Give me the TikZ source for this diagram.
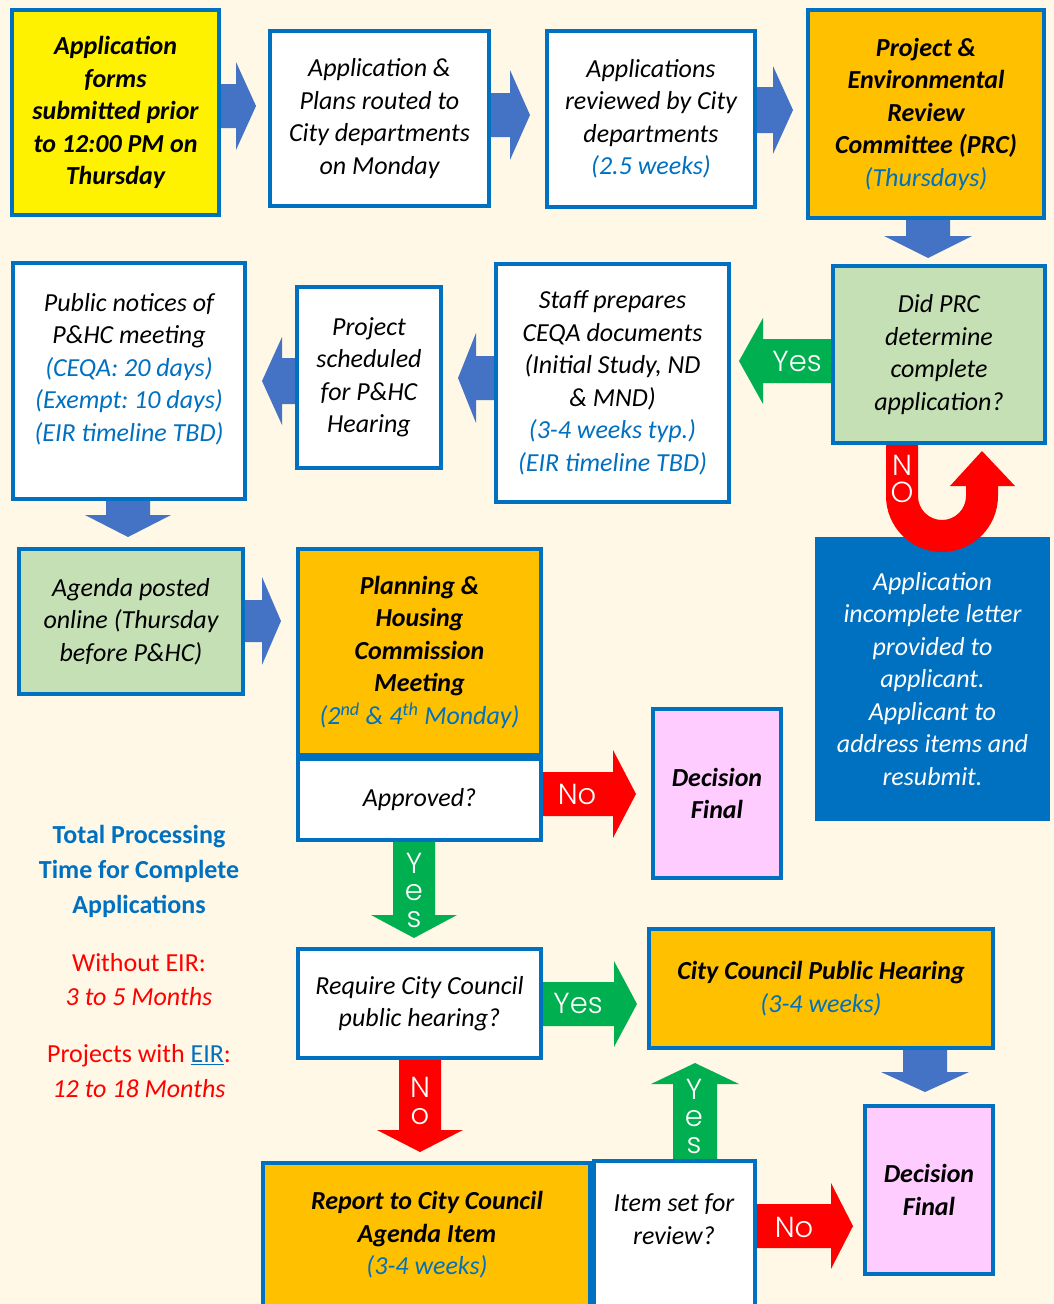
\documentclass[tikz,border=0pt]{standalone}
\usepackage{fontspec}
\setmainfont{Carlito}
\newfontfamily\arrowfont{Poppins Light}
\definecolor{bg}{HTML}{FFF8E6}
\definecolor{bordblue}{HTML}{0070C0}
\definecolor{arrblue}{HTML}{4472C4}
\definecolor{orng}{HTML}{FFC000}
\definecolor{lgreen}{HTML}{C5E0B4}
\definecolor{pinkbox}{HTML}{FFCCFF}
\definecolor{agreen}{HTML}{00B050}
\definecolor{ared}{HTML}{FF0000}
\definecolor{txtblue}{HTML}{0070C0}
\newcommand{\bodyfont}{\fontsize{26}{32.5}\selectfont\itshape\frenchspacing}
\newcommand{\bt}[1]{\textcolor{txtblue}{#1}}
% horizontal block arrow: colour, tail x, centre y, shaft half, neck x, head half, tip x
\newcommand{\blockH}[7]{\fill[#1] (#2,#3-#4) -- (#5,#3-#4) -- (#5,#3-#6) -- (#7,#3) -- (#5,#3+#6) -- (#5,#3+#4) -- (#2,#3+#4) -- cycle;}
% vertical block arrow: colour, centre x, tail y, shaft half, neck y, head half, tip y
\newcommand{\blockV}[7]{\fill[#1] (#2-#4,#3) -- (#2-#4,#5) -- (#2-#6,#5) -- (#2,#7) -- (#2+#6,#5) -- (#2+#4,#5) -- (#2+#4,#3) -- cycle;}
\begin{document}
\frenchspacing
\begin{tikzpicture}[x=1pt,y=-1pt,
  box/.style={draw=bordblue, line width=4pt, align=center, inner sep=0pt, font=\bodyfont},
  txt/.style={align=center, inner sep=0pt, font=\bodyfont},
  lbl/.style={text=white, align=center, inner sep=0pt, font=\arrowfont\fontsize{29}{27}\selectfont},
  side/.style={align=center, inner sep=0pt}]
\useasboundingbox (0,0) rectangle (1054,1304);
\fill[bg] (0,0) rectangle (1054,1304);

% ---- block arrows ----
\blockH{arrblue}{221}{106}{22}{236}{44}{256}
\blockH{arrblue}{491}{115}{22}{510}{45}{530}
\blockH{arrblue}{757}{110}{23}{773}{44}{793}
\blockV{arrblue}{928}{220}{22}{236}{44}{258}
\blockH{agreen}{831}{361}{22}{763}{43}{739}
\blockH{arrblue}{494}{378}{22}{476}{45}{458}
\blockH{arrblue}{295}{381}{23}{282}{44}{262}
\blockV{arrblue}{128}{501}{22}{515}{43}{537}
\blockH{arrblue}{245}{621}{21}{262}{44}{281}
\blockH{ared}{543}{794}{22}{613}{44}{636}
\blockV{agreen}{414}{842}{21}{915}{43}{938}
\blockH{agreen}{543}{1004}{22}{614}{43}{637}
\blockV{arrblue}{925}{1050}{22}{1072}{44}{1092}
\blockV{ared}{420}{1060}{21}{1130}{43}{1152}
\blockV{agreen}{695}{1159}{22}{1084}{44}{1063}
\blockH{ared}{757}{1226}{22}{831}{43}{853}

% ---- boxes ----
\node[box, fill=yellow, minimum width=207, minimum height=205, font=\bodyfont\bfseries] (app) at (115.5,112.5)
  {Application\\forms\\submitted prior\\to 12:00 PM on\\Thursday};
\node[box, fill=white, minimum width=219, minimum height=175] (route) at (379.5,118.5)
  {Application \&\\Plans routed to\\City departments\\on Monday};
\node[box, fill=white, minimum width=208, minimum height=176] (review) at (651,119)
  {Applications\\reviewed by City\\departments\\\bt{(2.5 weeks)}};
\node[box, fill=orng, minimum width=236, minimum height=208, font=\bodyfont\bfseries] (prc) at (926,114)
  {Project \&\\Environmental\\Review\\Committee (PRC)\\\bt{\mdseries(Thursdays)}};
\node[box, fill=white, minimum width=232, minimum height=236] (notices) at (129,381) {};
\node[txt] (noticestxt) at (129,369)
  {Public notices of\\P\&HC meeting\\\bt{(CEQA: 20 days)}\\\bt{(Exempt: 10 days)}\\\bt{(EIR timeline TBD)}};
\node[box, fill=white, minimum width=144, minimum height=181] (sched) at (369,377.5)
  {Project\\scheduled\\for P\&HC\\Hearing};
\node[box, fill=white, minimum width=233, minimum height=238] (staff) at (612.5,383)
  {Staff prepares\\CEQA documents\\(Initial Study, ND\\\& MND)\\\bt{(3-4 weeks typ.)}\\\bt{(EIR timeline TBD)}};
\node[box, fill=lgreen, minimum width=212, minimum height=177] (did) at (939,354.5)
  {Did PRC\\determine\\complete\\application?};
\node[box, fill=lgreen, minimum width=224, minimum height=145] (agenda) at (131,621.5)
  {Agenda posted\\online (Thursday\\before P\&HC)};
\node[box, fill=orng, minimum width=243, minimum height=206, font=\bodyfont\bfseries] (phc) at (419.5,652)
  {Planning \&\\Housing\\Commission\\Meeting\\\bt{\mdseries(2\textsuperscript{nd} \& 4\textsuperscript{th} Monday)}};
\node[box, fill=white, minimum width=243, minimum height=81] (approved) at (419.5,799.5) {Approved?};
\node[box, fill=pinkbox, minimum width=128, minimum height=169, font=\bodyfont\bfseries] (final1) at (717,793.5)
  {Decision\\Final};
\node[box, draw=none, fill=bordblue, text=white, minimum width=235, minimum height=284] (incomplete) at (932.5,679)
  {Application\\incomplete letter\\provided to\\applicant.\\Applicant to\\address items and\\resubmit.};
\node[box, fill=white, minimum width=243, minimum height=109] (require) at (419.5,1003.5)
  {Require City Council\\public hearing?};
\node[box, fill=orng, minimum width=344, minimum height=119, font=\bodyfont\bfseries] (cch) at (821,988.5)
  {City Council Public Hearing\\\bt{\mdseries(3-4 weeks)}};
\node[box, fill=pinkbox, minimum width=128, minimum height=168, font=\bodyfont\bfseries] (final2) at (929,1190)
  {Decision\\Final};
\node[box, fill=orng, minimum width=327, minimum height=155] (report) at (426.5,1240.5) {};
\node[txt, font=\bodyfont\bfseries] (reporttxt) at (427,1235)
  {Report to City Council\\Agenda Item\\\bt{\mdseries(3-4 weeks)}};
\node[box, fill=white, minimum width=161, minimum height=157] (item) at (674.5,1239.5) {};
\node[txt] (itemtxt) at (674,1219) {Item set for\\review?};

% ---- U-turn "No" arrow ----
\fill[ared] (886,445) -- (886,496) arc[start angle=180, end angle=0, radius=56]
  -- (998,486) -- (1015,486) -- (982,451) -- (950,486) -- (966,486) -- (966,496)
  arc[start angle=0, end angle=180, radius=24] -- (918,445) -- cycle;

% ---- arrow labels ----
\node[lbl] (yes1) at (797,361) {Yes};
\node[lbl] (no1) at (902,479) {N\\O};
\node[lbl] (no2) at (577,794) {No};
\node[lbl] (yes2) at (414,890) {Y\\e\\s};
\node[lbl] (yes3) at (578,1003) {Yes};
\node[lbl] (no3) at (420,1101) {N\\o};
\node[lbl] (yes4) at (694,1116) {Y\\e\\s};
\node[lbl] (no4) at (794,1227) {No};

% ---- side notes ----
\node[side, text=txtblue, font=\fontsize{26}{35}\selectfont\bfseries] (total) at (139,871)
  {Total Processing\\Time for Complete\\Applications};
\node[side, text=ared, font=\fontsize{26}{34}\selectfont] (without) at (139,980)
  {Without EIR:\\\itshape 3 to 5 Months};
\node[side, text=ared, font=\fontsize{26}{35}\selectfont] (witheir) at (139,1071.5)
  {Projects with \textcolor{txtblue}{\underline{EIR}}:\\\itshape 12 to 18 Months};
\end{tikzpicture}
\end{document}
